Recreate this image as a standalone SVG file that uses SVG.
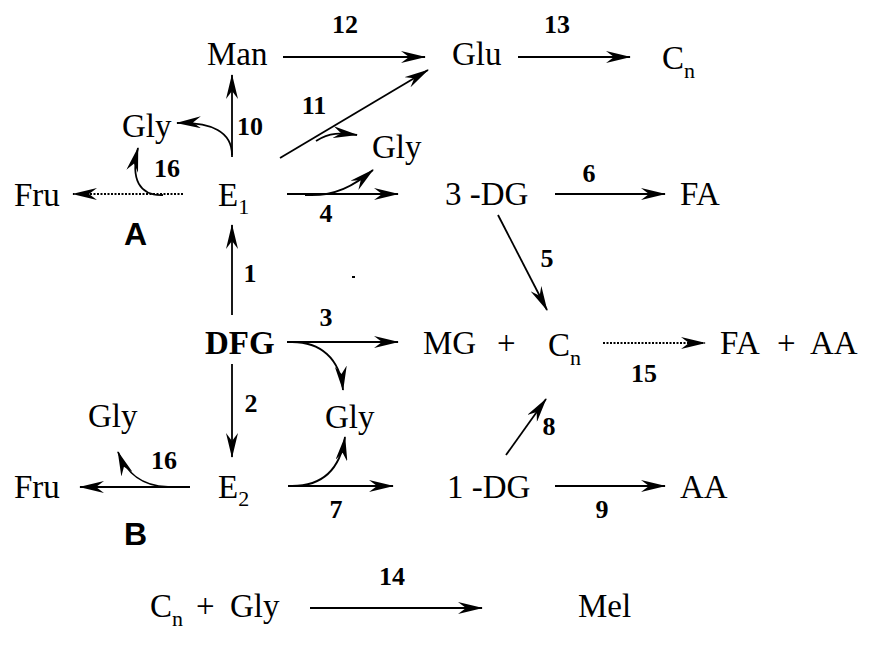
<svg xmlns="http://www.w3.org/2000/svg" width="875" height="651" viewBox="0 0 875 651">
<style>
.t{font-family:"Liberation Serif","Times New Roman",serif;font-size:33px;fill:#000}
.b{font-weight:bold}
.s{font-size:22px}
.n{font-family:"Liberation Serif","Times New Roman",serif;font-size:26px;font-weight:bold;fill:#000;text-anchor:middle}
.L{font-family:"Liberation Sans",Arial,sans-serif;font-size:32px;font-weight:bold;fill:#000}
.c{fill:none;stroke:#000;stroke-width:1.8;marker-end:url(#ah)}
.d{stroke-dasharray:2,1.5}
</style>
<defs>
<marker id="ah" viewBox="0 0 25 12" refX="24" refY="6" markerWidth="25" markerHeight="12" markerUnits="userSpaceOnUse" orient="auto">
<path d="M0,0 L25,6 L0,12 L8,6 Z" fill="#000" stroke="none"/>
</marker>
</defs>
<rect width="875" height="651" fill="#fff"/>
<g id="connectors">
<path class="c" d="M283,57 H425"/>
<path class="c" d="M518,57 H630"/>
<path class="c" d="M232,157 V75"/>
<path class="c" d="M232,155 C232,132 212,122 177,123"/>
<path class="c" d="M280,158 L428,70"/>
<path class="c" d="M316,141 C330,132 340,133 357,135"/>
<path class="c d" d="M183,194 H73"/>
<path class="c" d="M163,195 C140,196 130,180 138,148"/>
<path class="c" d="M287,194 H398"/>
<path class="c" d="M305,195 C335,197 355,185 373,170"/>
<path class="c" d="M555,194 H665"/>
<path class="c" d="M498,215 L547,310"/>
<path class="c" d="M232,315 V225"/>
<path class="c" d="M287,342 H398"/>
<path class="c" d="M292,342 C320,342 340,358 343,390"/>
<path class="c d" d="M603,343 H705"/>
<path class="c" d="M506,455 L546,399"/>
<path class="c" d="M232,364 V457"/>
<path class="c" d="M288,486 H393"/>
<path class="c" d="M292,486 C322,486 340,470 345,437"/>
<path class="c" d="M555,486 H665"/>
<path class="c" d="M190,487 H80"/>
<path class="c" d="M168,487 C140,486 126,472 118,452"/>
<path class="c" d="M310,608 H482"/>
</g>
<g id="labels">
<text class="n" x="345" y="33">12</text>
<text class="n" x="557" y="33">13</text>
<text class="n" x="250" y="135">10</text>
<text class="n" x="314" y="114">11</text>
<text class="n" x="167" y="177">16</text>
<text class="n" x="326" y="222">4</text>
<text class="n" x="589" y="182">6</text>
<text class="n" x="547" y="267">5</text>
<text class="n" x="250" y="282">1</text>
<text class="n" x="326" y="326">3</text>
<text class="n" x="251" y="412">2</text>
<text class="n" x="644" y="382">15</text>
<text class="n" x="549" y="435">8</text>
<text class="n" x="164" y="469">16</text>
<text class="n" x="336" y="518">7</text>
<text class="n" x="602" y="518">9</text>
<text class="n" x="392" y="585">14</text>
<text class="L" x="124" y="245">A</text>
<text class="L" x="124" y="545">B</text>
</g>
<rect x="352" y="276" width="3" height="2" fill="#000"/>
<g id="Man"><text class="t" x="207" y="65">Man</text></g>
<g id="Glu"><text class="t" x="452" y="65">Glu</text></g>
<g id="Cn-top"><text class="t" x="662" y="69">C<tspan class="s" dy="9">n</tspan></text></g>
<g id="Gly-10"><text class="t" x="122" y="137">Gly</text></g>
<g id="Fru-A"><text class="t" x="14" y="206">Fru</text></g>
<g id="E1"><text class="t" x="218" y="206">E<tspan class="s" dy="8">1</tspan></text></g>
<g id="Gly-11"><text class="t" x="372" y="158">Gly</text></g>
<g id="DG3"><text class="t" x="445" y="205">3 -DG</text></g>
<g id="FA"><text class="t" x="680" y="205">FA</text></g>
<g id="DFG"><text class="t b" x="205" y="354">DFG</text></g>
<g id="MG-Cn"><text class="t" x="423" y="354">MG</text><text class="t" x="497" y="354">+</text><text class="t" x="548" y="356">C<tspan class="s" dy="9">n</tspan></text></g>
<g id="FA-AA"><text class="t" x="720" y="354">FA</text><text class="t" x="777" y="354">+</text><text class="t" x="810" y="354">AA</text></g>
<g id="Gly-3"><text class="t" x="325" y="428">Gly</text></g>
<g id="Gly-16B"><text class="t" x="88" y="427">Gly</text></g>
<g id="Fru-B"><text class="t" x="14" y="498">Fru</text></g>
<g id="E2"><text class="t" x="218" y="498">E<tspan class="s" dy="8">2</tspan></text></g>
<g id="DG1"><text class="t" x="447" y="498">1 -DG</text></g>
<g id="AA"><text class="t" x="680" y="498">AA</text></g>
<g id="Cn-Gly"><text class="t" x="150" y="617">C<tspan class="s" dy="9">n</tspan></text><text class="t" x="196" y="617">+</text><text class="t" x="230" y="617">Gly</text></g>
<g id="Mel"><text class="t" x="578" y="617">Mel</text></g>
</svg>
